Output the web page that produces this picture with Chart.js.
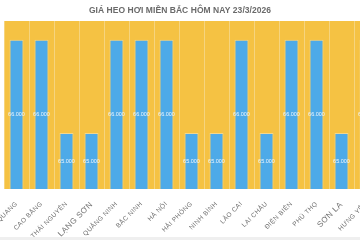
<!DOCTYPE html>
<html><head><meta charset="utf-8">
<script src="https://cdn.jsdelivr.net/npm/chart.js@4"></script>
<style>
html,body{margin:0;padding:0;width:360px;height:240px;overflow:hidden;background:#fff;}
#wrap{position:absolute;left:-20px;top:0;width:400px;height:240px;}
#strip{position:absolute;left:0;bottom:0;width:360px;height:3px;background:#efefef;}
</style></head>
<body>
<div id="wrap"><canvas id="c"></canvas></div>
<div id="strip"></div>
<script>
const title = 'GIÁ HEO HƠI MIỀN BẮC HÔM NAY 23/3/2026';
const categories = ['TUYÊN QUANG','CAO BẰNG','THÁI NGUYÊN','LẠNG SƠN','QUẢNG NINH','BẮC NINH','HÀ NỘI','HẢI PHÒNG','NINH BÌNH','LÀO CAI','LAI CHÂU','ĐIỆN BIÊN','PHÚ THỌ','SƠN LA','HƯNG YÊN'];
const prices = [66000,66000,65000,65000,66000,66000,66000,65000,65000,66000,65000,66000,66000,65000,66000];
const yMin = 64400, yMax = 66200;

const bgPlugin = {
  id:'bg',
  beforeDraw(chart){
    const {ctx, chartArea:a, width} = chart;
    ctx.save(); ctx.fillStyle='#F5C243';
    ctx.fillRect(a.left,a.top,a.right-a.left,a.bottom-a.top);
    ctx.restore();
    ctx.save();
    ctx.letterSpacing='0.05px';
    ctx.font='bold 8.5px "Liberation Sans", Arial, sans-serif';
    ctx.fillStyle='#6a6a6a'; ctx.textAlign='center'; ctx.textBaseline='middle';
    ctx.fillText(title, width/2, 10.5);
    ctx.restore();
    ctx.letterSpacing='0.4px';
  }
};
const labelPlugin = {
  id:'vals',
  afterDatasetsDraw(chart){
    const {ctx, chartArea:a} = chart;
    const meta = chart.getDatasetMeta(0);
    ctx.save();
    ctx.letterSpacing='0px';
    ctx.font='5.5px "Liberation Sans", Arial, sans-serif';
    ctx.fillStyle='#EEF6FD'; ctx.textAlign='center'; ctx.textBaseline='middle';
    meta.data.forEach((el,i)=>{
      const v = prices[i];
      const txt = Math.floor(v/1000)+'.'+String(v%1000).padStart(3,'0');
      ctx.fillText(txt, el.x, (el.y + a.bottom)/2);
    });
    ctx.restore();
  }
};

new Chart(document.getElementById('c'),{
  type:'bar',
  data:{labels:categories,datasets:[{
    data:prices,
    backgroundColor:'#4DAAE8',
    borderColor:'#F3D68C',
    borderWidth:1,
    borderSkipped:'bottom',
    barPercentage:0.56,
    categoryPercentage:1
  }]},
  options:{
    responsive:true, maintainAspectRatio:false, animation:false,
    layout:{padding:{left:24,right:1,top:21,bottom:0}},
    plugins:{ legend:{display:false}, tooltip:{enabled:false}, title:{display:false} },
    scales:{
      x:{
        grid:{display:true,offset:true,color:'#F6D47E',lineWidth:1,drawTicks:false},
        border:{display:false},
        ticks:{autoSkip:false,minRotation:45,maxRotation:45,padding:11,color:'#707070',
          font:(ctx)=>({family:'"Liberation Sans", Arial, sans-serif',size:(ctx.index===3||ctx.index===13)?8:6.5})},
        afterFit(s){ s.paddingLeft=0; s.paddingRight=0; s.height=51; }
      },
      y:{display:false,min:yMin,max:yMax}
    }
  },
  plugins:[bgPlugin,labelPlugin]
});
</script>
</body></html>
